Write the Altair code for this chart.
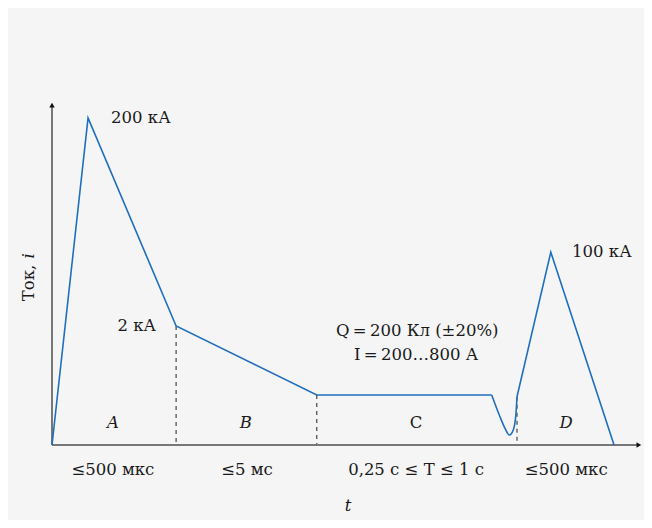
import altair as alt
import pandas as pd

# Main current waveform (arbitrary units: time 0..100, current 0..100)
wave_t = [0, 6.1, 21.0, 44.8, 74.4]
wave_i = [0, 94.8, 34.5, 14.5, 14.5]
# dip at end of C, then stroke D
dip_t = [74.4, 75.8, 76.65, 77.38, 78.05, 78.51, 78.68]
dip_i = [14.5, 8.2, 4.84, 2.9, 4.35, 9.19, 14.0]
d_t = [78.68, 84.4, 95.1]
d_i = [14.0, 55.9, 0]

# dashed boundaries
bound_t = [21.0, 44.8, 78.68]
bound_i = [34.5, 14.5, 14.0]

# labels
peak_txt = ["200 кА", "100 кА"]
peak_t = [10.0, 88.0]
peak_i = [94.8, 55.9]
phase_it = ["A", "B", "D"]
phase_it_t = [10.3, 32.8, 87.0]
phase_up = ["C"]
phase_up_t = [61.6]
dur_txt = ["≤500 мкс", "≤5 мс", "0,25 с ≤ T ≤ 1 с", "≤500 мкс"]
dur_t = [10.3, 33.0, 61.6, 87.0]
q_txt = ["Q\u2009=\u2009200 Кл (±20%)", "I\u2009=\u2009200…800 А"]
q_i = [33.0, 26.1]

FONT = "DejaVu Serif"
FS = 16.5
BLUE = "#1f6fbf"
INK = "#1a1a1a"

X = alt.X("t:Q", scale=alt.Scale(domain=[0, 100]), axis=None)
Y = alt.Y("i:Q", scale=alt.Scale(domain=[0, 100]), axis=None)

wave = alt.Chart(pd.DataFrame({"t": wave_t, "i": wave_i})).mark_line(
    color=BLUE, strokeWidth=1.6).encode(x=X, y=Y)
dip = alt.Chart(pd.DataFrame({"t": dip_t, "i": dip_i})).mark_line(
    color=BLUE, strokeWidth=1.6, interpolate="monotone").encode(x=X, y=Y)
strokeD = alt.Chart(pd.DataFrame({"t": d_t, "i": d_i})).mark_line(
    color=BLUE, strokeWidth=1.6).encode(x=X, y=Y)

bounds = alt.Chart(pd.DataFrame({"t": bound_t, "i": bound_i, "i0": [0, 0, 0]})).mark_rule(
    color="#444", strokeWidth=1.2, strokeDash=[4, 4]).encode(x=X, y=Y, y2="i0:Q")

axes_df = pd.DataFrame({"t": [0, 0], "i": [0, 0], "t2": [0, 99], "i2": [98, 0]})
axes = alt.Chart(axes_df).mark_rule(color="#777", strokeWidth=2).encode(
    x=X, y=Y, x2="t2:Q", y2="i2:Q")
arr_up = alt.Chart(pd.DataFrame({"t": [0], "i": [98.5]})).mark_point(
    shape="triangle-up", filled=True, color="#111", size=30, opacity=1).encode(x=X, y=Y)
arr_r = alt.Chart(pd.DataFrame({"t": [99.3], "i": [0]})).mark_point(
    shape="triangle-right", filled=True, color="#111", size=30, opacity=1).encode(x=X, y=Y)

def txt(df, **kw):
    base = dict(font=FONT, fontSize=FS, color=INK, baseline="middle")
    base.update(kw)
    return alt.Chart(df).mark_text(**base).encode(x=X, y=Y, text="label:N")

peaks = txt(pd.DataFrame({"t": peak_t, "i": peak_i, "label": peak_txt}), align="left")
two = txt(pd.DataFrame({"t": [17.6], "i": [34.5], "label": ["2 кА"]}), align="right")
qlab = txt(pd.DataFrame({"t": [61.8, 61.6], "i": q_i, "label": q_txt}), align="center")
ph_it = txt(pd.DataFrame({"t": phase_it_t, "i": [6.4] * 3, "label": phase_it}),
            align="center", fontStyle="italic")
ph_up = txt(pd.DataFrame({"t": phase_up_t, "i": [6.4], "label": phase_up}), align="center")
durs = txt(pd.DataFrame({"t": dur_t, "i": [-7.25] * 4, "label": dur_txt}), align="center")
tlab = txt(pd.DataFrame({"t": [50.1], "i": [-17.7], "label": ["t"]}),
           align="center", fontStyle="italic")
ylab1 = txt(pd.DataFrame({"t": [-3.9], "i": [41.7], "label": ["Ток,"]}),
            align="left", angle=270)
ylab2 = txt(pd.DataFrame({"t": [-3.9], "i": [54.8], "label": ["i"]}),
            align="center", angle=270, fontStyle="italic")

chart = alt.layer(
    bounds, axes, arr_up, arr_r, wave, dip, strokeD,
    peaks, two, qlab, ph_it, ph_up, durs, tlab, ylab1, ylab2
).properties(
    width=591, height=345, background="#f5f5f5",
    padding={"left": 44, "top": 92, "right": 1, "bottom": 75},
    autosize=alt.AutoSizeParams(type="none"),
).configure_view(stroke=None)

chart.save("out.html", embed_options={"renderer": "svg", "actions": False})
